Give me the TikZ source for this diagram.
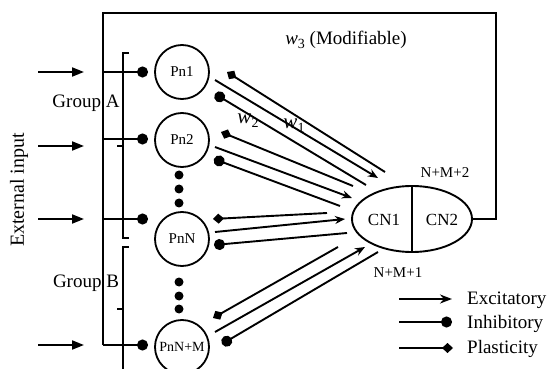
\documentclass[tikz,border=0pt]{standalone}
\usepackage{fontspec}
\setmainfont{Liberation Serif}
\usetikzlibrary{arrows.meta,shapes.geometric}
\tikzset{
  ln/.style={line width=1.9pt},
  exc/.style={ln,-{Stealth[length=10pt,width=8pt]}},
  inh/.style={ln,-{Circle[length=11pt]}},
  pla/.style={ln,-{Diamond[length=11pt,width=10pt]}},
  inarr/.style={ln,-{Triangle[length=12pt,width=9pt]}},
  brk/.style={line width=1.4pt},
  pn/.style={circle,draw,line width=1.8pt,minimum size=54pt,inner sep=0pt,font=\fontsize{15}{15}\selectfont},
  vdot/.style={circle,fill,inner sep=0pt,minimum size=9pt},
  lab/.style={font=\fontsize{19}{19}\selectfont,inner sep=0pt},
  sm/.style={font=\fontsize{15}{15}\selectfont,inner sep=0pt},
}
\newcommand\wlab[1]{\textit{w}\raisebox{-.4ex}{\fontsize{14}{14}\selectfont #1}}
\begin{document}
\begin{tikzpicture}[x=1pt,y=-1pt]
\useasboundingbox (0,0) rectangle (550,369);
% neurons
\node[pn] (p1) at (182,72) {Pn1};
\node[pn] (p2) at (182,140) {Pn2};
\node[pn] (pN) at (182,239) {PnN};
\node[pn,font=\fontsize{14}{14}\selectfont] (pM) at (182,347) {PnN+M};
\foreach \n/\y in {d1/175,d2/189,d3/203,d4/282,d5/296,d6/309}
  \node[vdot] (\n) at (179,\y) {};
% central neuron
\node[ellipse,draw,line width=1.9pt,minimum width=120pt,minimum height=66pt,inner sep=0pt] (cn) at (412,219) {};
\draw[ln] (cn.north) -- (cn.south);
\node[font=\fontsize{17}{17}\selectfont,inner sep=0pt] (cn1) at (384,220) {CN1};
\node[font=\fontsize{17}{17}\selectfont,inner sep=0pt] (cn2) at (442,220) {CN2};
\node[sm] (nm2) at (445,173) {N+M+2};
\node[sm] (nm1) at (398,273) {N+M+1};
% feedback loop
\coordinate (lb) at (103,345);
\coordinate (tl) at (103,13);
\coordinate (tr) at (496,13);
\draw[ln] (lb) -- (tl) -- (tr) |- (cn.east);
\node[font=\fontsize{19}{19}\selectfont,inner sep=0pt] (w3) at (346,40) {\wlab{3} (Modifiable)};
% input taps
\foreach \k/\y in {1/72,2/139,3/219}{
  \coordinate (s\k) at (103,\y);
  \coordinate (e\k) at (148,\y);
}
\coordinate (e4) at (148,345);
\draw[inh] (s1) -- (e1);
\draw[inh] (s2) -- (e2);
\draw[inh] (s3) -- (e3);
\draw[inh] (lb) -- (e4);
% external inputs
\foreach \k/\y in {1/72,2/146,3/219,4/345}{
  \coordinate (x\k) at (38,\y);
  \coordinate (y\k) at (84,\y);
  \draw[inarr] (x\k) -- (y\k);
}
\node[font=\fontsize{20}{20}\selectfont,inner sep=0pt,rotate=90] (ext) at (19,190) {External input};
% group brackets
\draw[brk] (129,53) -- (123,53) -- (123,238) -- (129,238);
\draw[brk] (123,146) -- (117,146);
\draw[brk] (129,247) -- (123,247) -- (123,369);
\draw[brk] (123,309) -- (117,309);
\node[lab] (ga) at (86,103) {Group A};
\node[lab] (gb) at (86,283) {Group B};
% connections Pn <-> CN
% Pn1
\coordinate (a1) at (385,172); \coordinate (a2) at (227,72);
\coordinate (a3) at (215,80);  \coordinate (a4) at (378,178);
\coordinate (a5) at (366,185); \coordinate (a6) at (215,94);
\draw[pla] (a1) -- (a2);
\draw[exc] (a3) -- (a4);
\draw[inh] (a5) -- (a6);
% Pn2
\coordinate (b1) at (353,186); \coordinate (b2) at (221,132);
\coordinate (b3) at (215,147); \coordinate (b4) at (352,198);
\coordinate (b5) at (340,206); \coordinate (b6) at (214,159);
\draw[pla] (b1) -- (b2);
\draw[exc] (b3) -- (b4);
\draw[inh] (b5) -- (b6);
% PnN
\coordinate (c1) at (327,213); \coordinate (c2) at (213,219);
\coordinate (c3) at (215,232); \coordinate (c4) at (345,219);
\coordinate (c5) at (347,233); \coordinate (c6) at (214,245);
\draw[pla] (c1) -- (c2);
\draw[exc] (c3) -- (c4);
\draw[inh] (c5) -- (c6);
% PnN+M
\coordinate (m1) at (338,247); \coordinate (m2) at (213,318);
\coordinate (m3) at (215,332); \coordinate (m4) at (365,247);
\coordinate (m5) at (378,252); \coordinate (m6) at (222,344);
\draw[pla] (m1) -- (m2);
\draw[exc] (m3) -- (m4);
\draw[inh] (m5) -- (m6);
% weights
\node[font=\fontsize{21}{21}\selectfont,inner sep=0pt] (w2) at (248,121) {\wlab{2}};
\node[font=\fontsize{21}{21}\selectfont,inner sep=0pt] (w1) at (294,126) {\wlab{1}};
% legend
\coordinate (l1s) at (399,299); \coordinate (l1e) at (452,299);
\coordinate (l2s) at (399,322); \coordinate (l2e) at (452,322);
\coordinate (l3s) at (399,348); \coordinate (l3e) at (453,348);
\draw[ln,-{Stealth[length=12pt,width=9pt]}] (l1s) -- (l1e);
\draw[inh] (l2s) -- (l2e);
\draw[pla] (l3s) -- (l3e);
\node[lab,anchor=base west] (t1) at (467,305) {Excitatory};
\node[lab,anchor=base west] (t2) at (467,328) {Inhibitory};
\node[lab,anchor=base west] (t3) at (467,353) {Plasticity};
\end{tikzpicture}
\end{document}
